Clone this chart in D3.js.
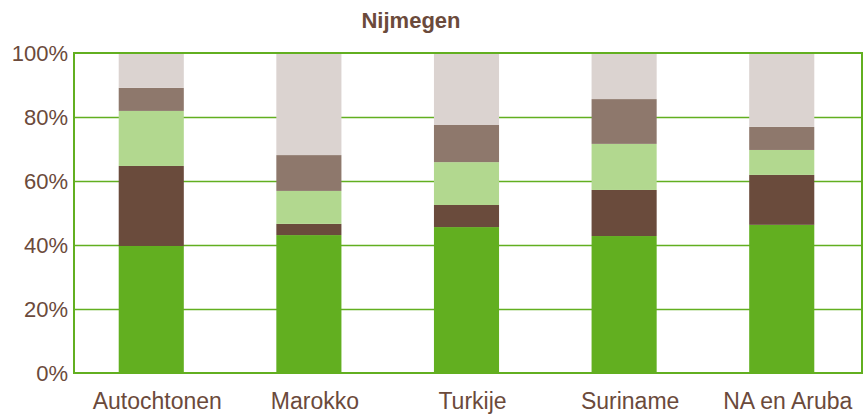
<!DOCTYPE html>
<meta charset="utf-8">
<style>
body { margin: 0; background: #fff; }
text { font-family: "Liberation Sans", Arial, sans-serif; fill: #6b4a3b; }
</style>
<svg id="svg" width="865" height="417"></svg>
<script src="https://d3js.org/d3.v7.min.js"></script>
<script>
// categories and the five stacked shares (percent, bottom to top)
var categories = ["Autochtonen", "Marokko", "Turkije", "Suriname", "NA en Aruba"];
var seriesA = [39.7, 43.1, 45.6, 42.8, 46.3];
var seriesB = [25.0, 3.5, 6.9, 14.4, 15.6];
var seriesC = [17.2, 10.3, 13.4, 14.4, 7.8];
var seriesD = [7.2, 11.2, 11.6, 14.0, 7.2];
var seriesE = [10.9, 31.9, 22.5, 14.4, 23.1];
var yTicks = [0, 20, 40, 60, 80, 100];
var title = "Nijmegen";

var colors = ["#62af20", "#6a4b3c", "#b2d88f", "#8e786c", "#dbd3d0"];
var keys = ["a", "b", "c", "d", "e"];

var rows = categories.map(function(c, i) {
    return { cat: c, a: seriesA[i], b: seriesB[i], c: seriesC[i], d: seriesD[i], e: seriesE[i] };
});

var svg = d3.select("#svg");
// plot frame (note: "top" would clash with window.top)
var plotLeft = 74, plotRight = 862, plotTop = 53, plotBottom = 373;

var x = d3.scaleBand()
    .domain(categories)
    .range([plotLeft - 1, plotRight - 2])
    .paddingInner(0.587)
    .paddingOuter(0.29);

var y = d3.scaleLinear().domain([0, 100]).range([plotBottom, plotTop]);

// gridlines
svg.append("g")
    .selectAll("line")
    .data(yTicks.filter(function(t) { return t > 0 && t < 100; }))
    .enter().append("line")
    .attr("x1", plotLeft).attr("x2", plotRight)
    .attr("y1", function(d) { return Math.round(y(d)) + 0.5; })
    .attr("y2", function(d) { return Math.round(y(d)) + 0.5; })
    .attr("stroke", "#62af20")
    .attr("stroke-width", 1.3);

// stacked bars
var stack = d3.stack().keys(keys)(rows);

svg.append("g")
    .selectAll("g")
    .data(stack)
    .enter().append("g")
    .attr("fill", function(d, i) { return colors[i]; })
    .selectAll("rect")
    .data(function(d) { return d; })
    .enter().append("rect")
    .attr("x", function(d) { return x(d.data.cat); })
    .attr("width", x.bandwidth())
    .attr("y", function(d) { return y(d[1]); })
    .attr("height", function(d) { return y(d[0]) - y(d[1]); });

// frame
svg.append("rect")
    .attr("x", plotLeft).attr("y", plotTop)
    .attr("width", plotRight - plotLeft).attr("height", plotBottom - plotTop)
    .attr("fill", "none")
    .attr("stroke", "#62af20")
    .attr("stroke-width", 2);

// y axis labels
var yAxis = d3.axisLeft(y)
    .tickValues(yTicks)
    .tickSize(0)
    .tickPadding(6)
    .tickFormat(function(d) { return d + "%"; });

svg.append("g")
    .attr("transform", "translate(" + plotLeft + ",0)")
    .call(yAxis)
    .call(function(g) { g.select(".domain").remove(); })
    .selectAll("text")
    .attr("font-size", 22)
    .attr("font-family", "Liberation Sans, Arial, sans-serif")
    .attr("fill", "#6b4a3b");

// x axis labels
var xAxis = d3.axisBottom(x).tickSize(0).tickPadding(20);

svg.append("g")
    .attr("transform", "translate(6," + plotBottom + ")")
    .call(xAxis)
    .call(function(g) { g.select(".domain").remove(); })
    .selectAll("text")
    .attr("font-size", 23)
    .attr("font-family", "Liberation Sans, Arial, sans-serif")
    .attr("fill", "#6b4a3b");

// title
svg.append("text")
    .attr("x", 411)
    .attr("y", 28)
    .attr("text-anchor", "middle")
    .attr("font-size", 22)
    .attr("font-weight", "bold")
    .text(title);
</script>
